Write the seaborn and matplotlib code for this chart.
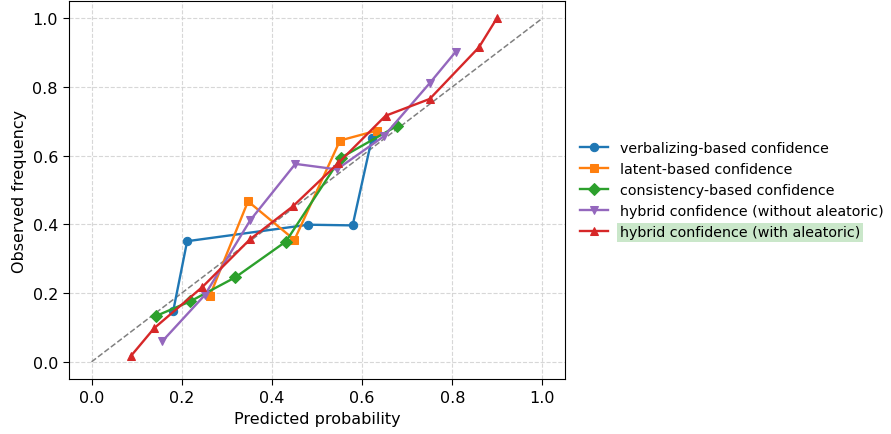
import numpy as np
import pandas as pd
import matplotlib
matplotlib.use("Agg")
import matplotlib.pyplot as plt
import seaborn as sns

# reliability curves
verbal_x = [0.181, 0.212, 0.481, 0.579, 0.622]
verbal_y = [0.147, 0.351, 0.399, 0.397, 0.652]

latent_x = [0.262, 0.347, 0.450, 0.551, 0.633]
latent_y = [0.191, 0.467, 0.355, 0.644, 0.673]

consist_x = [0.144, 0.219, 0.319, 0.431, 0.553, 0.677]
consist_y = [0.134, 0.176, 0.246, 0.350, 0.594, 0.686]

hybrid_no_x = [0.157, 0.251, 0.352, 0.452, 0.544, 0.648, 0.750, 0.808]
hybrid_no_y = [0.060, 0.194, 0.412, 0.576, 0.560, 0.656, 0.811, 0.903]

hybrid_x = [0.088, 0.139, 0.246, 0.351, 0.447, 0.547, 0.652, 0.750, 0.859, 0.899]
hybrid_y = [0.018, 0.098, 0.218, 0.356, 0.453, 0.578, 0.716, 0.765, 0.915, 1.000]

labels = [
    "verbalizing-based confidence",
    "latent-based confidence",
    "consistency-based confidence",
    "hybrid confidence (without aleatoric)",
    "hybrid confidence (with aleatoric)",
]

series = [
    (verbal_x, verbal_y, "o", "tab:blue"),
    (latent_x, latent_y, "s", "tab:orange"),
    (consist_x, consist_y, "D", "tab:green"),
    (hybrid_no_x, hybrid_no_y, "v", "tab:purple"),
    (hybrid_x, hybrid_y, "^", "tab:red"),
]

fig = plt.figure(figsize=(8.91, 4.35), dpi=100)
ax = fig.add_axes([69 / 891, 55 / 435, 496 / 891, 378 / 435])

# perfect calibration line
ax.plot([0, 1], [0, 1], linestyle="--", color="gray", linewidth=1.1)

for (xs, ys, mk, col), lab in zip(series, labels):
    df = pd.DataFrame({"x": xs, "y": ys})
    sns.lineplot(data=df, x="x", y="y", marker=mk, color=col, label=lab,
                 sort=False, ax=ax, markersize=6, linewidth=1.7,
                 markeredgecolor=col)

ax.set_xlabel("Predicted probability", fontsize=11.5)
ax.set_ylabel("Observed frequency", fontsize=11.5)
ax.tick_params(labelsize=11.5, length=4.5)
ax.set_xlim(-0.05, 1.05)
ax.set_ylim(-0.05, 1.05)
ax.grid(True, linestyle="--", color="lightgray", alpha=0.9)

leg = ax.legend(loc="center left", bbox_to_anchor=(1.004, 0.5), frameon=False,
                fontsize=10.3)
# highlight the last entry
last = leg.get_texts()[-1]
last.set_bbox(dict(facecolor="tab:green", alpha=0.25, edgecolor="none", pad=2))

plt.savefig("out.png", dpi=100)
